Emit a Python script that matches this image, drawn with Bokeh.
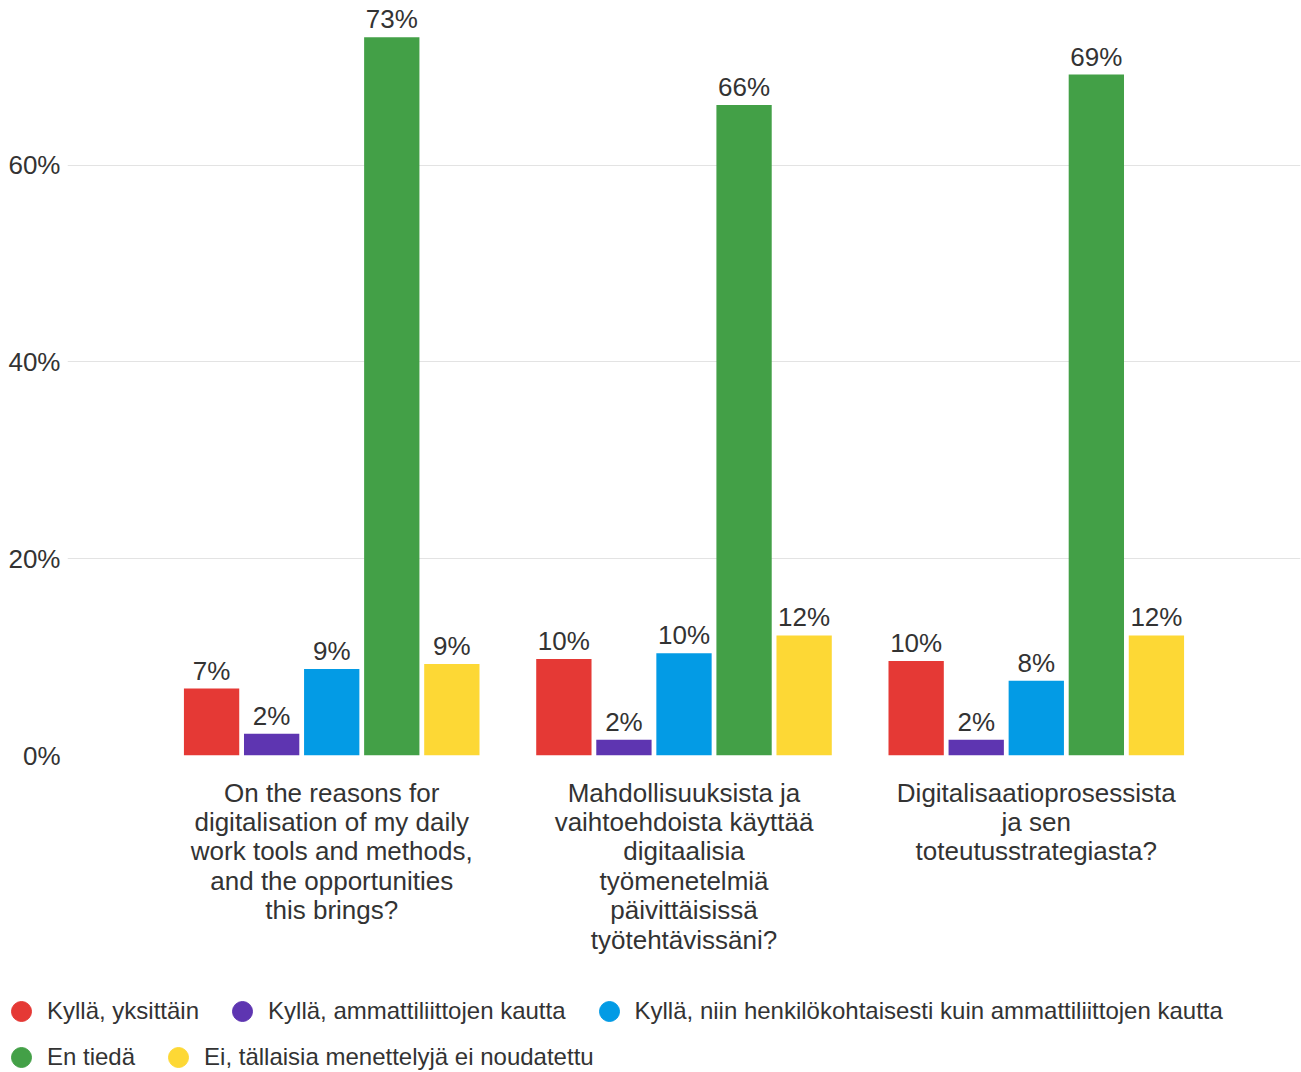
from bokeh.plotting import figure
from bokeh.layouts import column
from bokeh.models import (FactorRange, Range1d, FixedTicker, PrintfTickFormatter,
                          Legend, LegendItem, ColumnDataSource)
from bokeh.transform import dodge
from bokeh.core.properties import value
from bokeh.embed import file_html
from bokeh.resources import INLINE

categories = [
    "On the reasons for\ndigitalisation of my daily\nwork tools and methods,\nand the opportunities\nthis brings?",
    "Mahdollisuuksista ja\nvaihtoehdoista käyttää\ndigitaalisia\ntyömenetelmiä\npäivittäisissä\ntyötehtävissäni?",
    "Digitalisaatioprosessista\nja sen\ntoteutusstrategiasta?",
]
series_names = [
    "Kyllä, yksittäin",
    "Kyllä, ammattiliittojen kautta",
    "Kyllä, niin henkilökohtaisesti kuin ammattiliittojen kautta",
    "En tiedä",
    "Ei, tällaisia menettelyjä ei noudatettu",
]
kylla_yksittain = [6.8, 9.8, 9.6]
kylla_ammattiliitot = [2.2, 1.6, 1.6]
kylla_molemmat = [8.8, 10.4, 7.6]
en_tieda = [73.0, 66.1, 69.2]
ei_menettelyja = [9.3, 12.2, 12.2]
series_values = [kylla_yksittain, kylla_ammattiliitot, kylla_molemmat, en_tieda, ei_menettelyja]
colors = ["#e53935", "#5e35b1", "#039be5", "#43a047", "#fdd835"]
y_ticks = [0, 20, 40, 60]

FONT = "Liberation Sans"
TXT = "#333333"

p = figure(
    x_range=FactorRange(*categories, range_padding=0.25, range_padding_units="absolute"),
    y_range=Range1d(0, 76.73),
    width=1301, height=980,
    output_backend="svg", toolbar_location=None,
    min_border_left=67, min_border_right=1, min_border_top=0, min_border_bottom=225,
)
p.frame_align = False
p.outline_line_color = None
p.background_fill_color = "white"

pitch = 0.1705
bar_w = 0.157
for i, (name, vals, col) in enumerate(zip(series_names, series_values, colors)):
    src = ColumnDataSource(dict(cat=categories, val=vals,
                                lab=[f"{int(v + 0.5)}%" for v in vals]))
    off = (i - 2) * pitch
    p.vbar(x=dodge("cat", off, range=p.x_range), top="val", width=bar_w,
           source=src, fill_color=col, line_color=None)
    p.text(x=dodge("cat", off, range=p.x_range), y="val", text="lab", source=src,
           text_align="center", text_baseline="bottom", y_offset=-3,
           text_font=value(FONT), text_font_size="26px", text_color=TXT)

# axes
p.yaxis.ticker = FixedTicker(ticks=y_ticks)
p.yaxis.formatter = PrintfTickFormatter(format="%d%%")
for ax in (p.xaxis, p.yaxis):
    ax.axis_line_color = None
    ax.major_tick_line_color = None
    ax.minor_tick_line_color = None
    ax.major_tick_out = 0
    ax.major_tick_in = 0
    ax.major_label_text_font = FONT
    ax.major_label_text_font_size = "26px"
    ax.major_label_text_color = TXT
p.yaxis.major_label_standoff = 7
p.xaxis.major_label_standoff = 22
p.xaxis.major_label_text_line_height = 0.98
p.xaxis.major_label_orientation = "horizontal"

p.ygrid.grid_line_color = "#e3e3e3"
p.ygrid.grid_line_width = 1
p.xgrid.grid_line_color = None

# legend strip below the chart
lf = figure(width=1301, height=92, x_range=Range1d(0, 1), y_range=Range1d(0, 1),
            output_backend="svg", toolbar_location=None,
            x_axis_location=None, y_axis_location=None,
            min_border_left=0, min_border_right=0, min_border_top=0, min_border_bottom=0)
lf.frame_align = False
lf.outline_line_color = None
lf.xgrid.grid_line_color = None
lf.ygrid.grid_line_color = None

renderers = []
for col in colors:
    r = lf.scatter(x=[0.5], y=[float("nan")], marker="circle", size=0,
                   fill_color=col, line_color=col)
    renderers.append(r)

def make_legend(idx, loc):
    items = [LegendItem(label=series_names[k], renderers=[renderers[k]]) for k in idx]
    return Legend(items=items, orientation="horizontal", location=loc,
                  glyph_width=50, glyph_height=50, label_standoff=1, spacing=18,
                  padding=0, margin=0, border_line_color=None, background_fill_alpha=0,
                  label_text_font=FONT, label_text_font_size="24px", label_text_color=TXT)

lf.add_layout(make_legend([0, 1, 2], (-4, 36)))
lf.add_layout(make_legend([3, 4], (-4, -10)))

open("out.html", "w").write(file_html(column(p, lf), INLINE))
